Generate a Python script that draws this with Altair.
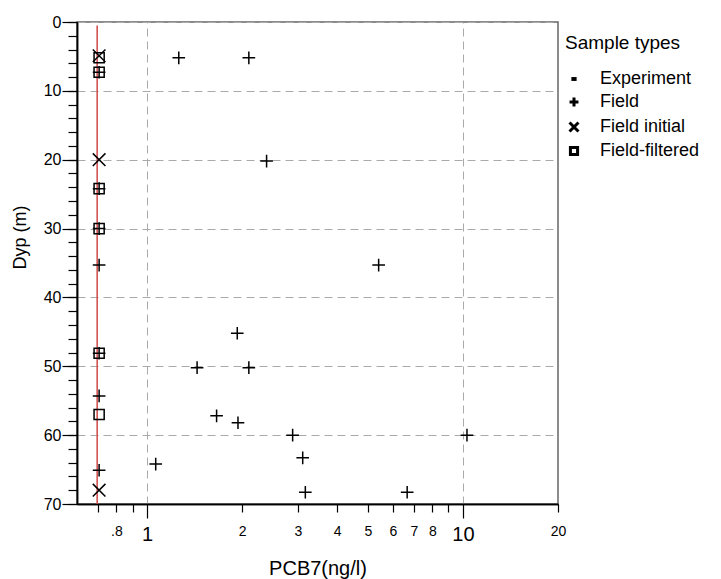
import altair as alt
import pandas as pd

# ---- data ----
field_x = [1.26, 2.10, 0.705, 2.39, 0.705, 0.705, 0.705, 5.41, 1.93, 0.705, 1.44, 2.10,
           0.705, 1.66, 1.94, 2.89, 10.3, 3.11, 1.065, 0.705, 3.17, 6.66]
field_y = [5.2, 5.2, 7.3, 20.2, 24.2, 30.0, 35.3, 35.3, 45.2, 48.1, 50.2, 50.2,
           54.3, 57.2, 58.2, 60.0, 60.0, 63.3, 64.2, 65.1, 68.3, 68.3]
initial_x = [0.705, 0.705, 0.705]
initial_y = [4.9, 20.0, 68.0]
filtered_x = [0.705, 0.705, 0.705, 0.705, 0.705, 0.705]
filtered_y = [5.2, 7.3, 24.2, 30.0, 48.1, 57.0]
types = ["Experiment", "Field", "Field initial", "Field-filtered"]
limit_x = [0.695]
limit_y = [0.5]
limit_y2 = [70]

x_major = [1, 10]
x_minor = [0.7, 0.8, 0.9, 2, 3, 4, 5, 6, 7, 8, 9, 20]
y_major = [0, 10, 20, 30, 40, 50, 60, 70]
y_minor = list(range(0, 71, 2))

rows = []
for xv, yv in zip(field_x, field_y):
    rows.append({"x": xv, "y": yv, "type": "Field"})
for xv, yv in zip(initial_x, initial_y):
    rows.append({"x": xv, "y": yv, "type": "Field initial"})
for xv, yv in zip(filtered_x, filtered_y):
    rows.append({"x": xv, "y": yv, "type": "Field-filtered"})
df = pd.DataFrame(rows)
df_limit = pd.DataFrame({"x": limit_x, "y": limit_y, "y2": limit_y2})

shapes = [
    "M-0.25,-0.1L0.25,-0.1L0.25,0.1L-0.25,0.1Z",
    "M-1,0L1,0M0,-1L0,1",
    "M-1,-1L1,1M-1,1L1,-1",
    "M-0.8,-0.8L0.8,-0.8L0.8,0.8L-0.8,0.8Z",
]

xscale = alt.Scale(type="log", domain=[0.6, 20], nice=False)
yscale = alt.Scale(domain=[0, 70], reverse=True, nice=False)

major_x_axis = alt.Axis(
    orient="bottom", values=x_major, tickSize=14, tickColor="black", tickWidth=1.2,
    labelFontSize=20, labelPadding=6, labelColor="black",
    labelExpr="format(datum.value, '~g')", labelFlush=False, labelOverlap=False,
    grid=True, gridDash=[8, 5], gridColor="#aaaaaa", gridWidth=1,
    domainColor="black", domainWidth=1.5,
    title="PCB7(ng/l)", titleFontSize=20, titleFontWeight="normal", titleColor="black",
    titleY=64, titleBaseline="middle",
)
minor_x_axis = alt.Axis(
    orient="bottom", values=x_minor, tickSize=8, tickColor="black", tickWidth=1.2,
    labelFontSize=14, labelPadding=12, labelColor="black",
    labelExpr="datum.value == 0.8 ? '.8' : (datum.value == 0.7 || datum.value == 0.9 || datum.value == 9) ? '' : format(datum.value, '~g')",
    labelFlush=False, labelOverlap=False,
    grid=False, domainColor="black", domainWidth=1.5, title=None,
)
major_y_axis = alt.Axis(
    orient="left", values=y_major, tickSize=15, tickColor="black", tickWidth=1.2,
    labelFontSize=16, labelPadding=1, labelColor="black", labelFlush=False,
    grid=True, gridDash=[8, 5], gridColor="#aaaaaa", gridWidth=1,
    domainColor="black", domainWidth=1.5,
    title="Dyp (m)", titleFontSize=18, titleFontWeight="normal", titleColor="black",
    titleX=-57, titleY=215, titleBaseline="middle", titleAngle=270,
)
minor_y_axis = alt.Axis(
    orient="left", values=y_minor, tickSize=9, tickColor="black", tickWidth=1.2,
    labels=False, grid=False, domainColor="black", domainWidth=1.5, title=None,
)

limit = alt.Chart(df_limit).mark_rule(color="#d04848", strokeWidth=1.5).encode(
    x=alt.X("x:Q", scale=xscale, axis=minor_x_axis),
    y=alt.Y("y:Q", scale=yscale, axis=minor_y_axis),
    y2="y2:Q",
)

points = alt.Chart(df).mark_point(
    filled=False, size=160, strokeWidth=1.5, color="black", opacity=1
).encode(
    x=alt.X("x:Q", scale=xscale, axis=major_x_axis),
    y=alt.Y("y:Q", scale=yscale, axis=major_y_axis),
    shape=alt.Shape(
        "type:N",
        scale=alt.Scale(domain=types, range=shapes),
        legend=alt.Legend(
            title="Sample types", orient="none", legendX=488, legendY=12,
            titleFontSize=19, titleFontWeight="normal", titleColor="black",
            labelFontSize=18, labelColor="black", labelOffset=17,
            symbolSize=80, symbolStrokeWidth=3, symbolStrokeColor="black",
            symbolFillColor="transparent", rowPadding=3, titlePadding=17, padding=0,
        ),
    ),
)

chart = (
    alt.layer(limit, points)
    .resolve_axis(x="independent", y="independent")
    .properties(
        width=481, height=482,
        autosize=alt.AutoSizeParams(type="none"),
        padding={"left": 69, "top": 14, "right": 150, "bottom": 75},
    )
    .configure(font="Liberation Sans")
    .configure_view(stroke="#666666", strokeWidth=1.5)
)

chart.save("out.html", embed_options={"renderer": "svg", "actions": False})
